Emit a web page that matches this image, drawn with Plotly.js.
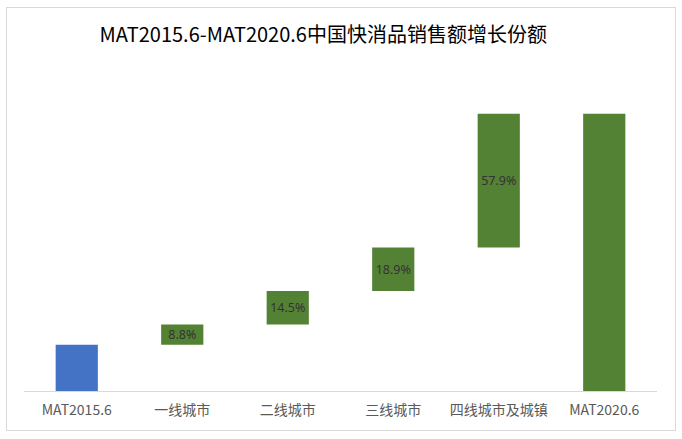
<!DOCTYPE html>
<html>
<head>
<meta charset="utf-8">
<script src="https://cdn.plot.ly/plotly-3.0.1.min.js"></script>
<style>
html,body{margin:0;padding:0;background:#fff;}
#wrap{position:relative;width:682px;height:439px;}
#chart{width:682px;height:439px;}
#frame{position:absolute;left:6px;top:7px;width:668px;height:422px;border:1px solid #d9d9d9;pointer-events:none;}
</style>
</head>
<body>
<div id="wrap"><div id="chart"></div><div id="frame"></div></div>
<script>
// Data
const categories = ["MAT2015.6", "一线城市", "二线城市", "三线城市", "四线城市及城镇", "MAT2020.6"];
const startValue = 20;                         // MAT2015.6 base (relative scale)
const growthShares = [8.8, 14.5, 18.9, 57.9];  // % share of growth by city tier
const growthLabels = ["8.8%", "14.5%", "18.9%", "57.9%"];

// Build waterfall from data
const endValue = startValue + growthShares.reduce((a, b) => a + b, 0);
const yVals = [startValue].concat(growthShares, [endValue]);
const bases = [0];
let run = startValue;
growthShares.forEach(v => { bases.push(run); run += v; });
bases.push(0);
const texts = [""].concat(growthLabels, [""]);
const colors = ["#4472C4"].concat(growthShares.map(() => "#548235"), ["#548235"]);

const trace = {
  type: "bar",
  x: categories,
  y: yVals,
  base: bases,
  text: texts,
  textposition: "inside",
  insidetextanchor: "middle",
  textangle: 0,
  constraintext: "none",
  textfont: {family: "Noto Sans, sans-serif", size: 12.5, color: "#333333"},
  marker: {color: colors, line: {width: 0}},
  hoverinfo: "none"
};

const layout = {
  width: 682, height: 439,
  margin: {l: 24, r: 25, t: 91, b: 48},
  paper_bgcolor: "#ffffff",
  plot_bgcolor: "#ffffff",
  showlegend: false,
  bargap: 0.6,
  title: {
    text: "MAT2015.6-MAT2020.6中国快消品销售额增长份额",
    font: {family: "Noto Sans CJK SC, sans-serif", size: 20, color: "#000000"},
    x: 0.474, xref: "container", xanchor: "center",
    y: 0.92, yref: "container", yanchor: "middle"
  },
  xaxis: {
    type: "category",
    showline: true, linecolor: "#d9d9d9", linewidth: 1,
    ticks: "", showgrid: false, zeroline: false,
    tickfont: {family: "Noto Sans CJK SC, sans-serif", size: 14, color: "#595959"},
    ticklabelstandoff: 6
  },
  yaxis: {
    range: [0, 130],
    visible: false,
    showgrid: false, zeroline: false
  }
};

Plotly.newPlot("chart", [trace], layout, {staticPlot: true, displayModeBar: false});
</script>
</body>
</html>
